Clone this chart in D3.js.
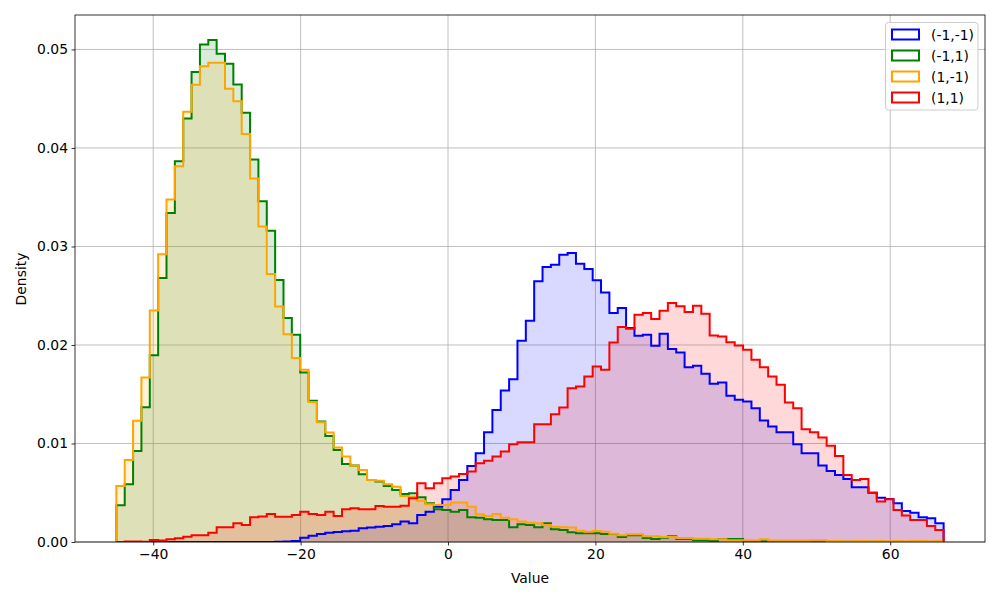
<!DOCTYPE html>
<html>
<head>
<meta charset="utf-8">
<script src="https://cdn.jsdelivr.net/npm/d3@7"></script>
<style>
  body { margin: 0; background: #fff; }
  svg text { font-family: "DejaVu Sans", sans-serif; fill: #000; }
</style>
</head>
<body>
<svg id="chart" width="1000" height="600"></svg>
<script>
// ---- data ----
const binLo = -45.0;
const binHi = 67.25;
const binCount = 99;

const seriesLabels = ["(-1,-1)", "(-1,1)", "(1,-1)", "(1,1)"];
const seriesColors = ["#0000ff", "#008000", "#ffa500", "#ff0000"];

const densBlue = [0,0,0,0,0,0,0,0,0,0,
  0,0,0,0,0,0,0,0,0,0.00003,
  0.00005,0.0001,0.00044,0.00064,0.00081,0.00095,0.00102,0.00109,0.00115,0.00139,
  0.00146,0.00156,0.00163,0.0018,0.00207,0.0019,0.00274,0.00308,0.00359,0.00434,
  0.00528,0.0063,0.00772,0.00901,0.01114,0.01341,0.01538,0.01653,0.02043,0.02246,
  0.02646,0.02791,0.02815,0.02917,0.02934,0.02825,0.02771,0.02656,0.02534,0.02324,
  0.02375,0.02172,0.02093,0.02104,0.01992,0.02114,0.01958,0.01924,0.01775,0.01789,
  0.01707,0.01606,0.01619,0.01484,0.01443,0.01426,0.01359,0.01233,0.01172,0.01115,
  0.01115,0.00993,0.00901,0.00901,0.00776,0.00722,0.00681,0.0064,0.00556,0.00556,
  0.00501,0.0045,0.00437,0.00393,0.00315,0.00298,0.00251,0.00241,0.0019];

const densGreen = [0.00373,0.00586,0.00925,0.01369,0.01897,0.0268,0.0334,0.03865,0.04299,0.0477,
  0.05051,0.05095,0.04956,0.04855,0.04644,0.04357,0.03882,0.03458,0.0316,0.0266,
  0.02273,0.02104,0.0172,0.01433,0.01223,0.01077,0.00935,0.00793,0.00776,0.00688,
  0.0063,0.00613,0.00569,0.00528,0.00488,0.00495,0.00454,0.00393,0.00332,0.00325,
  0.00308,0.00325,0.00251,0.00247,0.0023,0.00224,0.00224,0.00149,0.0018,0.00173,
  0.00149,0.0019,0.00129,0.00122,0.00098,0.00088,0.00088,0.00088,0.0008,0.0008,
  0.0005,0.00068,0.00068,0.0004,0.0003,0.00044,0.00058,0.0003,0.0003,0.00017,
  0.00017,0.0001,0.0003,0.0003,0.0003,0.0001,0.0001,0.00008,0.00005,0.00005,
  0.00008,0.00005,0.00003,0.00005,0.00003,0.00002,0.00003,0.00002,0.00002,0.00001,
  0.00002,0.00001,0.00001,0,0.00001,0,0,0,0.00001];

const densOrange = [0.00569,0.00833,0.0123,0.0167,0.0235,0.0292,0.03476,0.03814,0.04367,0.04641,
  0.0483,0.04864,0.04864,0.046,0.04475,0.04143,0.03689,0.03204,0.0272,0.0239,
  0.0211,0.01867,0.01748,0.0142,0.01216,0.01111,0.00959,0.00867,0.00776,0.00732,
  0.0063,0.00623,0.00586,0.00562,0.00467,0.0046,0.0042,0.00383,0.00376,0.00376,
  0.004,0.004,0.00359,0.00281,0.00264,0.00285,0.00247,0.0023,0.00207,0.00196,
  0.0019,0.00173,0.00156,0.00149,0.00146,0.00115,0.00105,0.00112,0.00105,0.00085,
  0.00068,0.00078,0.00078,0.00058,0.00058,0.00051,0.00051,0.0004,0.0004,0.00034,
  0.00034,0.00027,0.00027,0.00017,0.00017,0.00017,0.00017,0.00027,0.00014,0.00014,
  0.00014,0.00014,0.00014,0.00017,0.00017,0.0001,0.0001,0.00008,0.0001,0.0001,
  0.00008,0.0001,0.00008,0.0001,0.00008,0.0001,0.0001,0.00008,0.0001];

const densRed = [0,0.00005,0.00005,0.00003,0.0002,0.00015,0.00027,0.00037,0.00054,0.00068,
  0.00068,0.00095,0.00149,0.00149,0.0019,0.00173,0.00251,0.0026,0.00285,0.00257,
  0.00257,0.00274,0.00308,0.00285,0.00274,0.00308,0.00264,0.00332,0.00342,0.00332,
  0.00332,0.00366,0.00359,0.00359,0.00369,0.00444,0.00596,0.00545,0.00596,0.00647,
  0.00664,0.00691,0.00715,0.008,0.00826,0.00867,0.00918,0.00993,0.01013,0.01013,
  0.01196,0.01196,0.01298,0.01365,0.01562,0.01579,0.0168,0.01782,0.01748,0.02026,
  0.02182,0.02165,0.02307,0.02324,0.02263,0.02348,0.02426,0.02392,0.02334,0.02398,
  0.02317,0.02097,0.02087,0.02029,0.01995,0.01951,0.0185,0.01775,0.0168,0.01596,
  0.01416,0.01359,0.01145,0.01115,0.0106,0.00976,0.00874,0.00681,0.0063,0.0064,
  0.00501,0.0041,0.00434,0.00325,0.00268,0.00224,0.00224,0.00163,0.00122];

const xTicks = [-40, -20, 0, 20, 40, 60];
const yTicks = [0, 0.01, 0.02, 0.03, 0.04, 0.05];

// ---- layout ----
const svg = d3.select("#chart");
const L = 75, R = 985, T = 15, B = 542;
const series = [densBlue, densGreen, densOrange, densRed];
const edges = d3.range(binCount + 1).map(i => binLo + i * (binHi - binLo) / binCount);
const span = binHi - binLo;
const x = d3.scaleLinear().domain([binLo - 0.05 * span, binHi + 0.05 * span]).range([L, R]);
const yMax = d3.max(series.flat()) * 1.05;
const y = d3.scaleLinear().domain([0, yMax]).range([B, T]);

svg.append("rect").attr("width", 1000).attr("height", 600).attr("fill", "#fff");

const clip = svg.append("defs").append("clipPath").attr("id", "plotclip");
clip.append("rect").attr("x", L).attr("y", T).attr("width", R - L).attr("height", B - T);

// grid
const grid = svg.append("g");
xTicks.forEach(t => grid.append("line").attr("x1", x(t)).attr("x2", x(t)).attr("y1", T).attr("y2", B)
  .attr("stroke", "#b0b0b0").attr("stroke-width", 0.8));
yTicks.forEach(t => grid.append("line").attr("x1", L).attr("x2", R).attr("y1", y(t)).attr("y2", y(t))
  .attr("stroke", "#b0b0b0").attr("stroke-width", 0.8));

function stepPoints(vals) {
  const pts = [[edges[0], 0]];
  vals.forEach((v, i) => { pts.push([edges[i], v]); pts.push([edges[i + 1], v]); });
  pts.push([edges[binCount], 0]);
  return pts;
}
const line = d3.line().x(d => x(d[0])).y(d => y(d[1]));

const plot = svg.append("g").attr("clip-path", "url(#plotclip)");
series.forEach((vals, k) => {
  plot.append("path").attr("d", line(stepPoints(vals)) + "Z")
    .attr("fill", seriesColors[k]).attr("fill-opacity", 0.15).attr("stroke", "none");
});
series.forEach((vals, k) => {
  plot.append("path").attr("d", line(stepPoints(vals)))
    .attr("fill", "none").attr("stroke", seriesColors[k]).attr("stroke-width", 2)
    .attr("stroke-linejoin", "miter");
});

// spines
svg.append("rect").attr("x", L).attr("y", T).attr("width", R - L).attr("height", B - T)
  .attr("fill", "none").attr("stroke", "#000").attr("stroke-width", 0.8);

// axes
const fmtX = d => (d < 0 ? "\u2212" + Math.abs(d) : String(d));
const xAxis = svg.append("g").attr("transform", `translate(0,${B})`)
  .call(d3.axisBottom(x).tickValues(xTicks).tickFormat(fmtX).tickSize(3.5).tickSizeOuter(0).tickPadding(3.5));
const yAxis = svg.append("g").attr("transform", `translate(${L},0)`)
  .call(d3.axisLeft(y).tickValues(yTicks).tickFormat(d3.format(".2f")).tickSize(3.5).tickSizeOuter(0).tickPadding(3.5));
[xAxis, yAxis].forEach(a => {
  a.select(".domain").remove();
  a.selectAll(".tick line").attr("stroke", "#000").attr("stroke-width", 0.8);
  a.selectAll(".tick text").attr("font-size", "13.9px").attr("font-family", "DejaVu Sans, sans-serif").attr("fill", "#000");
});

svg.append("text").attr("x", (L + R) / 2).attr("y", 583).attr("text-anchor", "middle")
  .attr("font-size", "13.9px").text("Value");
svg.append("text").attr("transform", "translate(26,279) rotate(-90)").attr("text-anchor", "middle")
  .attr("font-size", "13.9px").text("Density");

// legend
const lg = svg.append("g");
lg.append("rect").attr("x", 885.5).attr("y", 22.5).attr("width", 92.5).attr("height", 87.5).attr("rx", 3)
  .attr("fill", "#fff").attr("fill-opacity", 0.8).attr("stroke", "#cccccc").attr("stroke-width", 1);
seriesLabels.forEach((lab, k) => {
  const cy = 34.5 + k * 21;
  lg.append("rect").attr("x", 892).attr("y", cy - 5).attr("width", 27).attr("height", 10)
    .attr("fill", "none").attr("stroke", seriesColors[k]).attr("stroke-width", 2);
  lg.append("text").attr("x", 931).attr("y", cy + 5).attr("font-size", "13.9px").text(lab);
});
</script>
</body>
</html>
